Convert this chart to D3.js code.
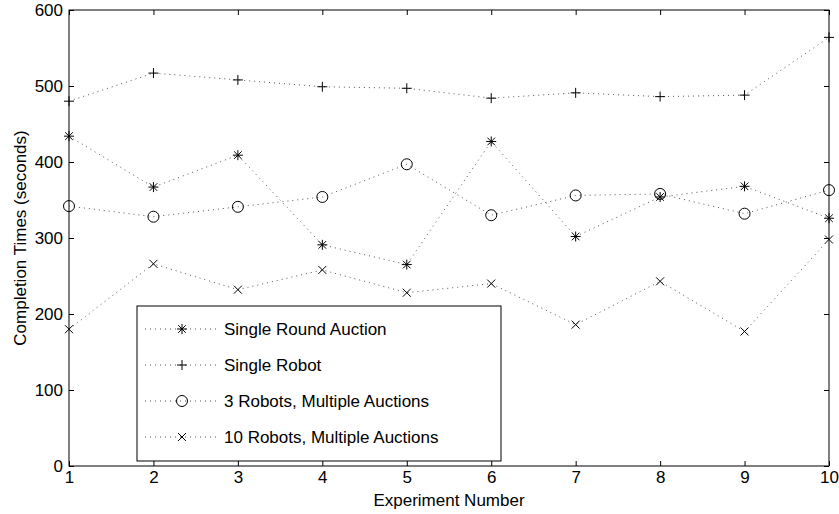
<!DOCTYPE html>
<html>
<head>
<meta charset="utf-8">
<script src="https://cdn.jsdelivr.net/npm/d3@7"></script>
<style>
  body { margin: 0; background: #fff; }
  svg text { font-family: "Liberation Sans", Arial, sans-serif; font-size: 17px; fill: #000; }
</style>
</head>
<body>
<div id="chart"></div>
<script>
// Data
var experiments = [1, 2, 3, 4, 5, 6, 7, 8, 9, 10];
var singleRoundAuction = [434, 367, 409, 291, 265, 427, 302, 354, 368, 326];
var singleRobot = [480, 517, 508, 499, 497, 484, 491, 486, 488, 564];
var threeRobots = [342, 328, 341, 354, 397, 330, 356, 358, 332, 363];
var tenRobots = [180, 266, 232, 258, 228, 240, 186, 243, 177, 298];
var seriesNames = ["Single Round Auction", "Single Robot", "3 Robots, Multiple Auctions", "10 Robots, Multiple Auctions"];
var markerTypes = ["star", "plus", "circle", "cross"];
var yTicks = [0, 100, 200, 300, 400, 500, 600];

var series = [singleRoundAuction, singleRobot, threeRobots, tenRobots].map(function(vals, i) {
    return { name: seriesNames[i], marker: markerTypes[i], values: vals };
});

var width = 839, height = 514;
var margin = {top: 10, right: 10, bottom: 48, left: 69};
var w = width - margin.left - margin.right,
    h = height - margin.top - margin.bottom;

var svg = d3.select("#chart").append("svg")
    .attr("width", width)
    .attr("height", height);

var g = svg.append("g")
    .attr("transform", "translate(" + margin.left + "," + margin.top + ")");

var x = d3.scaleLinear().domain([1, 10]).range([0, w]);
var y = d3.scaleLinear().domain([0, 600]).range([h, 0]);

// Axes with inward ticks, mirrored on top and right
function styleAxis(sel) {
    sel.select(".domain").remove();
    sel.selectAll(".tick line").attr("stroke", "#000");
}
g.append("g").attr("transform", "translate(0," + h + ")")
    .call(d3.axisBottom(x).tickValues(experiments).tickSize(-5).tickPadding(5).tickFormat(d3.format("d")))
    .call(styleAxis)
    .selectAll("text").attr("fill", "#000");
g.append("g")
    .call(d3.axisTop(x).tickValues(experiments).tickSize(-5).tickFormat(""))
    .call(styleAxis);
g.append("g")
    .call(d3.axisLeft(y).tickValues(yTicks).tickSize(-5).tickPadding(6))
    .call(styleAxis)
    .selectAll("text").attr("fill", "#000");
g.append("g").attr("transform", "translate(" + w + ",0)")
    .call(d3.axisRight(y).tickValues(yTicks).tickSize(-5).tickFormat(""))
    .call(styleAxis);

g.append("rect")
    .attr("width", w).attr("height", h)
    .attr("fill", "none").attr("stroke", "#000").attr("stroke-width", 1);

// Axis labels
svg.append("text")
    .attr("x", margin.left + w / 2).attr("y", 506)
    .attr("text-anchor", "middle")
    .text("Experiment Number");
svg.append("text")
    .attr("transform", "translate(26," + (margin.top + h / 2) + ") rotate(-90)")
    .attr("text-anchor", "middle")
    .text("Completion Times (seconds)");

// Marker drawing
function drawMarker(sel, type, cx, cy) {
    var s = 5;
    if (type === "circle") {
        sel.append("circle").attr("cx", cx).attr("cy", cy).attr("r", 5.5)
            .attr("fill", "none").attr("stroke", "#000").attr("stroke-width", 1);
        return;
    }
    var segs = [];
    if (type === "plus" || type === "star") {
        segs.push([cx - s, cy, cx + s, cy], [cx, cy - s, cx, cy + s]);
    }
    if (type === "cross" || type === "star") {
        var d = type === "star" ? 3.8 : 4;
        segs.push([cx - d, cy - d, cx + d, cy + d], [cx - d, cy + d, cx + d, cy - d]);
    }
    segs.forEach(function(p) {
        sel.append("line")
            .attr("x1", p[0]).attr("y1", p[1]).attr("x2", p[2]).attr("y2", p[3])
            .attr("stroke", "#000").attr("stroke-width", 1);
    });
}

var line = d3.line()
    .x(function(d, i) { return x(experiments[i]); })
    .y(function(d) { return y(d); });

series.forEach(function(s) {
    g.append("path")
        .datum(s.values)
        .attr("d", line)
        .attr("fill", "none")
        .attr("stroke", "#555")
        .attr("stroke-width", 1)
        .attr("stroke-dasharray", "1,4");
    var mg = g.append("g");
    s.values.forEach(function(v, i) {
        drawMarker(mg, s.marker, x(experiments[i]), y(v));
    });
});

// Legend
var legend = svg.append("g").attr("transform", "translate(137,306)");
legend.append("rect")
    .attr("width", 364).attr("height", 155)
    .attr("fill", "#fff").attr("stroke", "#000").attr("stroke-width", 1);
series.forEach(function(s, i) {
    var ly = 23 + i * 36;
    legend.append("line")
        .attr("x1", 8).attr("x2", 80).attr("y1", ly).attr("y2", ly)
        .attr("stroke", "#555").attr("stroke-dasharray", "1,4");
    drawMarker(legend, s.marker, 45, ly);
    legend.append("text")
        .attr("x", 87).attr("y", ly + 6)
        .text(s.name);
});
</script>
</body>
</html>
